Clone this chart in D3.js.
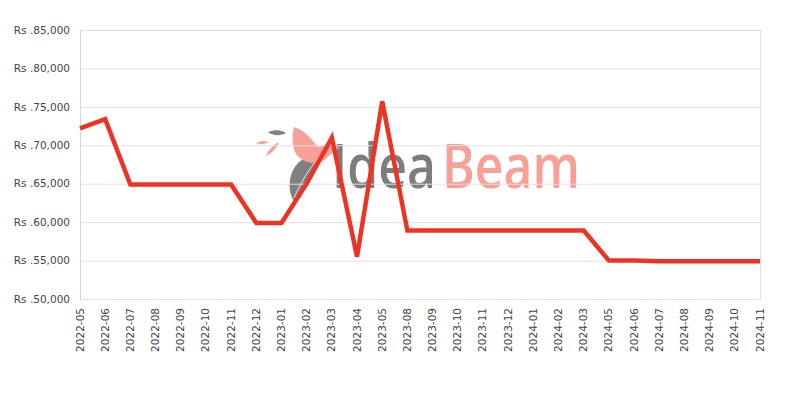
<!DOCTYPE html>
<html><head><meta charset="utf-8">
<script src="https://cdn.jsdelivr.net/npm/d3@7/dist/d3.min.js"></script>
<style>
body{margin:0;background:#fff;}
svg{display:block;font-family:"DejaVu Sans",sans-serif;}
</style></head>
<body><svg id="chart" width="800" height="400"></svg>
<script>
const categories = ["2022-05","2022-06","2022-07","2022-08","2022-09","2022-10","2022-11","2022-12",
  "2023-01","2023-02","2023-03","2023-04","2023-05","2023-08","2023-09","2023-10","2023-11","2023-12",
  "2024-01","2024-02","2024-03","2024-05","2024-06","2024-07","2024-08","2024-09","2024-10","2024-11"];
const prices = [72200,73400,64900,64900,64900,64900,64900,59900,
  59900,65000,71000,55500,75700,58900,58900,58900,58900,58900,
  58900,58900,58900,55000,55000,54900,54900,54900,54900,54900];
const yTicks = [50000,55000,60000,65000,70000,75000,80000,85000];

const svg = d3.select("#chart");
const m = {left:80, right:760, top:30, bottom:299};
const x = d3.scalePoint().domain(categories).range([m.left, m.right]);
const y = d3.scaleLinear().domain([50000,85000]).range([m.bottom, m.top]);

// watermark logo
const logo = svg.append("g");
function logoText(str, x0, w, color){
  const t = logo.append("text").attr("x",0).attr("y",0).attr("font-family","'Open Sans', sans-serif").attr("font-weight",600)
    .attr("font-size",62).attr("fill",color).text(str);
  const len = t.node().getComputedTextLength();
  t.attr("transform",`translate(${x0},188) scale(${w/len},1)`);
}
logoText("Idea",332,104,"#7d7d7d");
logoText("Beam",442,138,"#f6a096");
// feather
logo.append("path").attr("d","M293,200 C287,188 289,172 298,163 C306,156 316,153 322,154 C318,164 312,178 304,190 C300,196 296,199 293,200 Z").attr("fill","#808080");
logo.append("path").attr("d","M294,198 C300,184 308,170 320,156").attr("stroke","#fff").attr("stroke-width",0.8).attr("fill","none");
// bird
logo.append("path").attr("d","M294,127 C305,130 312,140 318,147 C326,145 334,144 340,148 C334,150 330,156 324,160 C314,166 300,162 295,152 C292,144 292,134 294,127 Z").attr("fill","#f6a096");
logo.append("path").attr("d","M268,132 C275,129 282,130 286,133 C280,136 273,136 268,132 Z").attr("fill","#808080");
logo.append("path").attr("d","M256,143 C260,141 265,141 269,142 C265,144 260,145 256,143 Z").attr("fill","#f6a096");
logo.append("path").attr("d","M266,156 C268,150 273,145 279,142 C277,148 272,153 266,156 Z").attr("fill","#f6a096");

// grid
svg.append("g").selectAll("line").data(yTicks).join("line")
  .attr("x1",m.left).attr("x2",m.right).attr("y1",d=>y(d)+0.5).attr("y2",d=>y(d)+0.5)
  .attr("stroke","#e0e0e0").attr("stroke-width",1);
svg.append("line").attr("x1",m.left+0.5).attr("x2",m.left+0.5).attr("y1",m.top).attr("y2",m.bottom+0.5).attr("stroke","#d6d6d6");
svg.append("line").attr("x1",m.right+0.5).attr("x2",m.right+0.5).attr("y1",m.top).attr("y2",m.bottom+0.5).attr("stroke","#e0e0e0");

// y labels
const fmt = d3.format(",");
svg.append("g").selectAll("text").data(yTicks).join("text")
  .attr("x",70).attr("y",d=>y(d)).attr("dy","0.35em").attr("text-anchor","end")
  .attr("font-size",10.5).attr("fill","#444").text(d=>"Rs ."+fmt(d));

// x labels
svg.append("g").selectAll("text").data(categories).join("text")
  .attr("transform",d=>`translate(${x(d)+3.5},308) rotate(-90)`).attr("text-anchor","end")
  .attr("font-size",10.5).attr("fill","#444").text(d=>d);

// line
const line = d3.line().x((d,i)=>x(categories[i])).y(d=>y(d));
svg.append("path").datum(prices).attr("d",line).attr("fill","none")
  .attr("stroke","#ee3325").attr("stroke-width",4.5).attr("stroke-linejoin","miter").attr("stroke-miterlimit",3);
</script></body></html>
